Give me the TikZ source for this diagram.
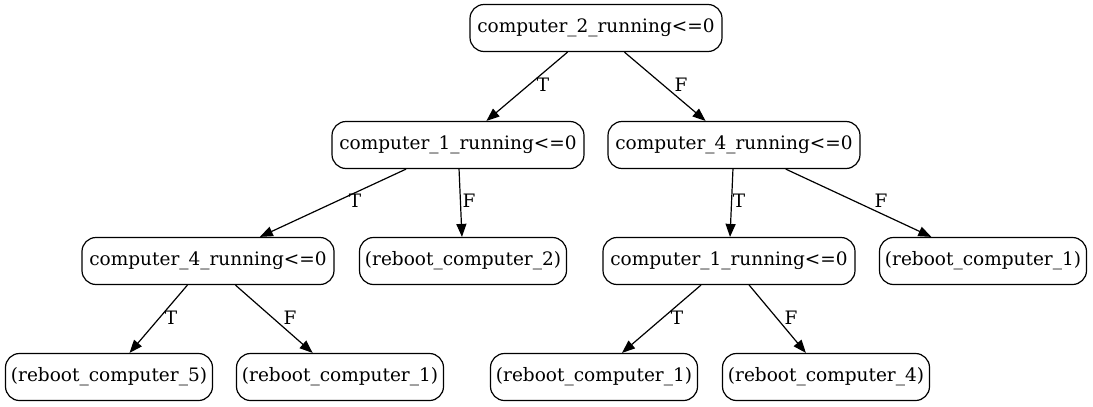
\documentclass[tikz,border=0pt]{standalone}
\usepackage{fontspec}
\setmainfont{DejaVu Serif}
\usetikzlibrary{arrows.meta}
\begin{document}
\begin{tikzpicture}[x=1pt,y=-1pt,
  box/.style={draw, line width=1.2pt, rounded corners=14pt, inner sep=0pt,
    minimum height=47pt, font=\fontsize{18.5}{22}\selectfont},
  decision/.style={box, minimum width=252pt},
  leaf/.style={box, minimum width=207pt},
  edge/.style={line width=1.2pt, -{Triangle[length=13pt,width=10pt]}},
  lbl/.style={font=\fontsize{18.5}{22}\selectfont, inner sep=0pt}]
\useasboundingbox[fill=white] (0,0) rectangle (1093,407);
\node[decision] (root) at (596,28) {computer\_2\_running<=0};
\node[decision] (c1a) at (458,145) {computer\_1\_running<=0};
\node[decision] (c4a) at (734,145) {computer\_4\_running<=0};
\node[decision] (c4b) at (208,261) {computer\_4\_running<=0};
\node[leaf] (r2) at (463,261) {(reboot\_computer\_2)};
\node[decision] (c1b) at (729,261) {computer\_1\_running<=0};
\node[leaf] (r1a) at (983,261) {(reboot\_computer\_1)};
\node[leaf] (r5) at (109,377) {(reboot\_computer\_5)};
\node[leaf] (r1b) at (340,377) {(reboot\_computer\_1)};
\node[leaf] (r1c) at (594,377) {(reboot\_computer\_1)};
\node[leaf] (r4) at (826,377) {(reboot\_computer\_4)};
\draw[edge] (root) -- (c1a) node[lbl] at (543,85) {T};
\draw[edge] (root) -- (c4a) node[lbl] at (681,85) {F};
\draw[edge] (c1a) -- (c4b) node[lbl] at (355,201) {T};
\draw[edge] (c1a) -- (r2) node[lbl] at (469,201) {F};
\draw[edge] (c4a) -- (c1b) node[lbl] at (739,201) {T};
\draw[edge] (c4a) -- (r1a) node[lbl] at (881,201) {F};
\draw[edge] (c4b) -- (r5) node[lbl] at (171,318) {T};
\draw[edge] (c4b) -- (r1b) node[lbl] at (290,318) {F};
\draw[edge] (c1b) -- (r1c) node[lbl] at (677,318) {T};
\draw[edge] (c1b) -- (r4) node[lbl] at (791,318) {F};
\end{tikzpicture}
\end{document}
